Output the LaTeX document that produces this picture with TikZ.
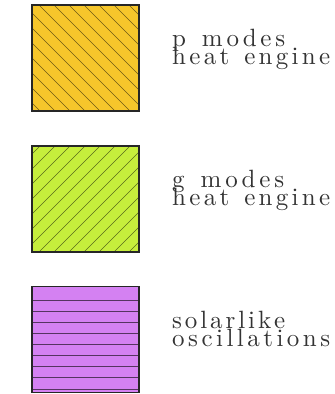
\documentclass[tikz,border=0pt]{standalone}
\usepackage{fontspec}
\setmainfont{Latin Modern Roman}
\newfontfamily\legfont{lmroman10-regular.otf}
\usetikzlibrary{calc}
\newcommand\lsp{\hfill}
\definecolor{pfill}{HTML}{F6C62B}
\definecolor{gfill}{HTML}{C6EE3C}
\definecolor{sfill}{HTML}{D481F2}
\tikzset{
  legbox/.style={draw=black!85, line width=1.3pt, minimum width=107pt, minimum height=106pt, inner sep=0pt, outer sep=0pt},
  hatch/.style={line width=0.5pt},
  legtext/.style={anchor=base west, inner sep=0pt, text=black!80,
    font=\legfont\fontsize{25}{25}\selectfont}
}
\begin{document}
\begin{tikzpicture}[x=1pt,y=-1pt]
\useasboundingbox (0,0) rectangle (335,394);
% box 1
\node[legbox, fill=pfill] (b1) at (85.5,58) {};
\begin{scope}
  \clip (b1.north west) rectangle (b1.south east);
  \foreach \i in {-113,-98,...,140}
    \draw[hatch, draw=pfill!45!black] ($(b1.north west)+(\i,0)$) -- ++(110,110);
\end{scope}
\node[legbox, fill=none] at (b1.center) {};
% box 2
\node[legbox, fill=gfill] (b2) at (85.5,199) {};
\begin{scope}
  \clip (b2.north west) rectangle (b2.south east);
  \foreach \i in {-113,-98,...,140}
    \draw[hatch, draw=gfill!45!black] ($(b2.south west)+(\i,0)$) -- ++(110,-110);
\end{scope}
\node[legbox, fill=none] at (b2.center) {};
% box 3
\node[legbox, fill=sfill] (b3) at (85.5,339.5) {};
\begin{scope}
  \clip (b3.north west) rectangle (b3.south east);
  \foreach \i in {0,...,8}
    \draw[hatch, draw=sfill!40!black] ($(b3.north west)+(0,13.5+11.1*\i)$) -- ++(107,0);
\end{scope}
\node[legbox, fill=none] at (b3.center) {};
% texts
\node[legtext] (t1a) at (172,46) {\makebox[113pt][l]{p\lsp{} \lsp m\lsp o\lsp d\lsp e\lsp s}};
\node[legtext] (t1b) at (172,64) {\makebox[158pt][l]{h\lsp e\lsp a\lsp t\lsp{} \lsp e\lsp n\lsp g\lsp i\lsp n\lsp e}};
\node[legtext] (t2a) at (172,187) {\makebox[112pt][l]{g\lsp{} \lsp m\lsp o\lsp d\lsp e\lsp s}};
\node[legtext] (t2b) at (172,205) {\makebox[158pt][l]{h\lsp e\lsp a\lsp t\lsp{} \lsp e\lsp n\lsp g\lsp i\lsp n\lsp e}};
\node[legtext] (t3a) at (172,328) {\makebox[113pt][l]{s\lsp o\lsp l\lsp a\lsp r\lsp l\lsp i\lsp k\lsp e}};
\node[legtext] (t3b) at (172,346) {\makebox[158pt][l]{o\lsp s\lsp c\lsp i\lsp l\lsp l\lsp a\lsp t\lsp i\lsp o\lsp n\lsp s}};
\end{tikzpicture}
\end{document}
